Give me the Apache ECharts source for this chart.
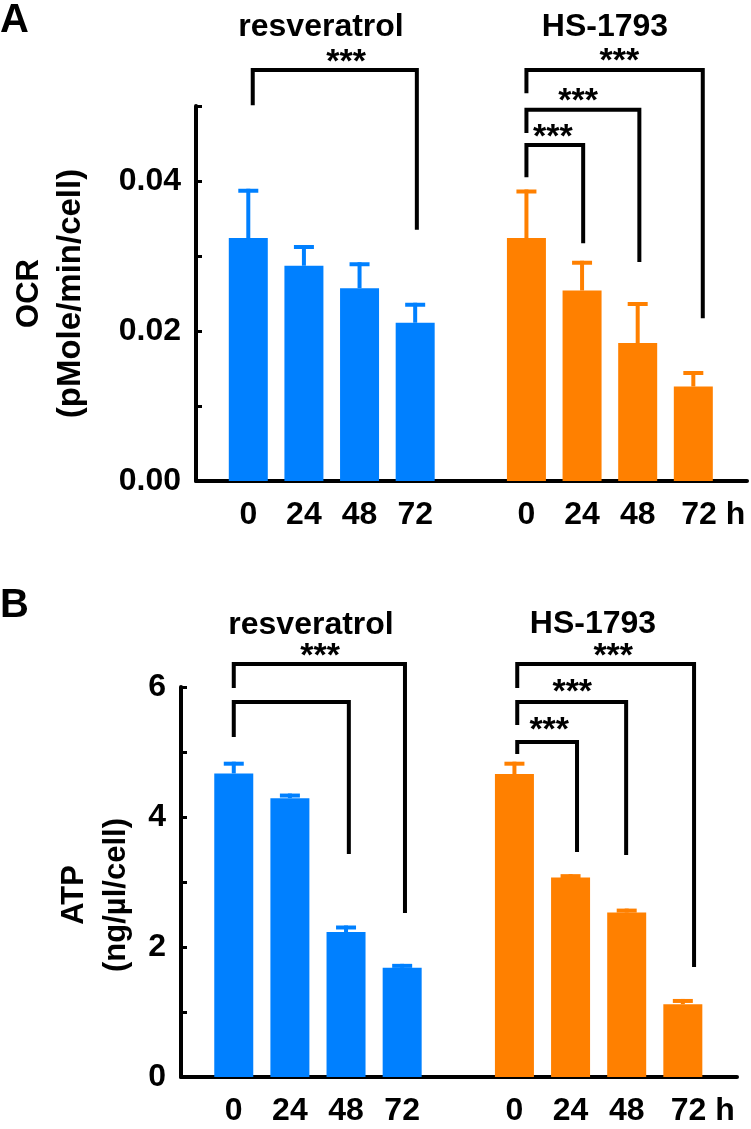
<!DOCTYPE html>
<html>
<head>
<meta charset="utf-8">
<script src="https://cdn.jsdelivr.net/npm/echarts@6/dist/echarts.min.js"></script>
<style>
  html, body { margin: 0; padding: 0; background: #fff; }
  #chart { width: 751px; height: 1129px; }
</style>
</head>
<body>
<div id="chart"></div>
<script>
// x positions of the bars (slot 5 is the gap between the two drugs)
const timeLabels = ['0', '24', '48', '72'];
const resPos = [1, 2, 3, 4];
const hsPos = [6, 7, 8, 9];

// A: OCR (pMole/min/cell)
const ocrRes = [0.0324, 0.0287, 0.0257, 0.0211];
const ocrResErr = [0.0063, 0.0025, 0.0032, 0.0024];
const ocrHs = [0.0324, 0.0254, 0.0184, 0.0126];
const ocrHsErr = [0.0062, 0.0037, 0.0052, 0.0018];

// B: ATP (ng/µl/cell)
const atpRes = [4.67, 4.29, 2.23, 1.68];
const atpResErr = [0.15, 0.04, 0.07, 0.03];
const atpHs = [4.66, 3.07, 2.53, 1.12];
const atpHsErr = [0.16, 0.02, 0.03, 0.05];

// significance brackets: [x left, x right, y top, y left end, y right end]
const ocrBrackets = [
  [1.08, 4.03, 0.0548, 0.0501, 0.0335],
  [6.0, 9.17, 0.0548, 0.0517, 0.0217],
  [6.0, 8.03, 0.0495, 0.0464, 0.0292],
  [6.0, 7.02, 0.0448, 0.0405, 0.0317]
];
const ocrStars = [[2.76, 0.0567], [7.67, 0.0568], [6.93, 0.0515], [6.475, 0.0467]];

const atpBrackets = [
  [1.0, 4.05, 6.354, 5.985, 2.523],
  [1.0, 3.05, 5.769, 5.231, 3.43],
  [6.05, 9.2, 6.354, 5.985, 1.692],
  [6.05, 7.99, 5.769, 5.415, 3.415],
  [6.05, 7.115, 5.154, 4.969, 3.46]
];
const atpStars = [[2.54, 6.57], [7.76, 6.57], [7.03, 6.015], [6.62, 5.43]];

const fam = '"Liberation Sans", Arial, sans-serif';
const blue = '#0080ff';
const orange = '#ff8000';

function pairs(xs, ys) {
  return xs.map(function (x, i) { return [x, ys[i]]; });
}
function errData(xs, ys, es) {
  return xs.map(function (x, i) { return [x, ys[i], ys[i] + es[i]]; });
}

function barSeries(idx, xs, ys, color) {
  return {
    type: 'bar', xAxisIndex: idx, yAxisIndex: idx,
    data: pairs(xs, ys), barWidth: 39, barGap: '-100%',
    itemStyle: {color: color}, z: 2
  };
}

function errSeries(idx, data, color) {
  return {
    type: 'custom', xAxisIndex: idx, yAxisIndex: idx, data: data, z: 1,
    encode: {x: 0, y: [1, 2]},
    renderItem: function (params, api) {
      let base = api.coord([api.value(0), api.value(1)]);
      let top = api.coord([api.value(0), api.value(2)]);
      return {type: 'group', children: [
        {type: 'line', shape: {x1: base[0], y1: base[1], x2: top[0], y2: top[1] - 2}, style: {stroke: color, lineWidth: 4}},
        {type: 'line', shape: {x1: top[0] - 10, y1: top[1], x2: top[0] + 10, y2: top[1]}, style: {stroke: color, lineWidth: 4}}
      ]};
    }
  };
}

function bracketSeries(idx, data) {
  return {
    type: 'custom', xAxisIndex: idx, yAxisIndex: idx, data: data, clip: false,
    encode: {x: [0, 1], y: [2, 3, 4]},
    renderItem: function (params, api) {
      let xl = api.value(0), xr = api.value(1), yt = api.value(2);
      let pts = [
        api.coord([xl, api.value(3)]), api.coord([xl, yt]),
        api.coord([xr, yt]), api.coord([xr, api.value(4)])
      ];
      return {type: 'polyline', shape: {points: pts}, style: {stroke: '#000', lineWidth: 4, fill: null}};
    }
  };
}

function starSeries(idx, data) {
  return {
    type: 'custom', xAxisIndex: idx, yAxisIndex: idx, data: data, clip: false,
    renderItem: function (params, api) {
      let p = api.coord([api.value(0), api.value(1)]);
      return {type: 'text', x: p[0], y: p[1] + 7, style: {
        text: '***', font: 'bold 34px ' + fam, fill: '#000',
        align: 'center', verticalAlign: 'middle'
      }};
    }
  };
}

function xAxisFor(idx) {
  return {
    type: 'value', gridIndex: idx, min: 0.06, max: 9.965,
    axisLine: {show: true, onZero: false, lineStyle: {color: '#000', width: 4}},
    axisTick: {show: false},
    splitLine: {show: false},
    axisLabel: {
      customValues: resPos.concat(hsPos),
      color: '#000', fontSize: 32, fontWeight: 'bold', fontFamily: fam, margin: 18,
      formatter: function (v) {
        let i = resPos.indexOf(v);
        if (i >= 0) return timeLabels[i];
        i = hsPos.indexOf(v);
        if (i === 3) return '{g| }' + timeLabels[i] + ' h';
        return i >= 0 ? timeLabels[i] : '';
      },
      rich: {g: {width: 40}}
    }
  };
}

function yAxisFor(idx, max, step, fmt, name, nameGap, pad, sizes) {
  return {
    type: 'value', gridIndex: idx, min: 0, max: max, interval: step,
    axisLine: {show: true, onZero: false, lineStyle: {color: '#000', width: 4}},
    axisTick: {show: true, inside: true, length: 6, lineStyle: {color: '#000', width: 3}},
    splitLine: {show: false},
    axisLabel: {color: '#000', fontSize: 32, fontWeight: 'bold', fontFamily: fam, margin: 15, formatter: fmt},
    name: name, nameLocation: 'middle', nameRotate: 90, nameGap: nameGap,
    nameTextStyle: {
      padding: pad, lineHeight: 42,
      rich: {
        a: {fontSize: sizes[0], fontWeight: 'bold', fontFamily: fam, color: '#000', lineHeight: 42},
        b: {fontSize: sizes[1], fontWeight: 'bold', fontFamily: fam, color: '#000', lineHeight: 42}
      }
    }
  };
}

function label(text, x, y, size) {
  return {type: 'text', x: x, y: y, style: {
    text: text, font: 'bold ' + size + 'px ' + fam, fill: '#000',
    align: x < 50 ? 'left' : 'center', verticalAlign: 'middle'
  }};
}

let chart = echarts.init(document.getElementById('chart'));

chart.setOption({
  animation: false,
  backgroundColor: '#fff',
  grid: [
    {left: 185, top: 106, width: 562, height: 375},
    {left: 181, top: 687, width: 556, height: 390}
  ],
  xAxis: [xAxisFor(0), xAxisFor(1)],
  yAxis: [
    yAxisFor(0, 0.05, 0.01, function (v) {
      return Math.round(v * 100) % 2 ? '' : v.toFixed(2);
    }, '{a|OCR}\n{b|(pMole/min/cell)}', 104, [0, 0, 0, 0], [31, 33]),
    yAxisFor(1, 6, 1, function (v) {
      return v % 2 ? '' : String(v);
    }, '{a|ATP}\n{b|(ng/µl/cell)}', 39, [0, 26, 0, 0], [31, 31])
  ],
  graphic: [
    label('A', 0, 21, 40),
    label('resveratrol', 321, 27, 32),
    label('HS-1793', 605, 27, 32),
    label('B', 0, 606, 40),
    label('resveratrol', 311, 625, 32),
    label('HS-1793', 593, 624, 32)
  ],
  series: [
    errSeries(0, errData(resPos, ocrRes, ocrResErr), blue),
    errSeries(0, errData(hsPos, ocrHs, ocrHsErr), orange),
    barSeries(0, resPos, ocrRes, blue),
    barSeries(0, hsPos, ocrHs, orange),
    bracketSeries(0, ocrBrackets),
    starSeries(0, ocrStars),
    errSeries(1, errData(resPos, atpRes, atpResErr), blue),
    errSeries(1, errData(hsPos, atpHs, atpHsErr), orange),
    barSeries(1, resPos, atpRes, blue),
    barSeries(1, hsPos, atpHs, orange),
    bracketSeries(1, atpBrackets),
    starSeries(1, atpStars)
  ]
});
</script>
</body>
</html>
